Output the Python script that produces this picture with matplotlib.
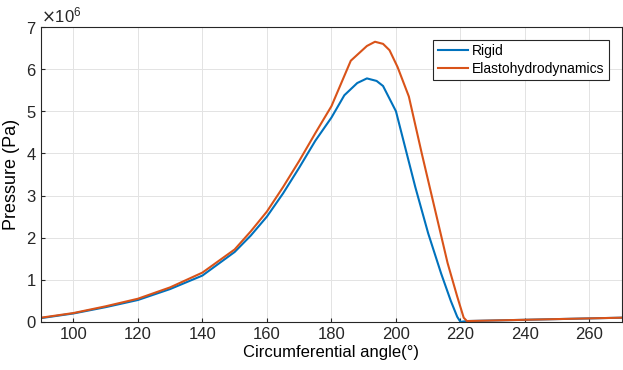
import numpy as np
import matplotlib.pyplot as plt
from matplotlib.ticker import ScalarFormatter

plt.rcParams['font.family'] = ['Liberation Sans', 'DejaVu Sans']

# Rigid bearing pressure (x1e6 Pa)
angle_rigid = [90, 100, 110, 120, 130, 140, 150, 155, 160, 165, 170, 175, 180, 184, 188, 191, 194,
               196, 198, 200, 203, 206, 210, 214, 217, 219, 220, 222, 240, 270]
p_rigid = [0.09, 0.2, 0.35, 0.52, 0.78, 1.1, 1.66, 2.05, 2.5, 3.05, 3.66, 4.3, 4.85, 5.38, 5.67, 5.78, 5.72,
           5.6, 5.3, 5.0, 4.1, 3.2, 2.1, 1.15, 0.5, 0.12, 0.0, 0.02, 0.05, 0.1]

# Elastohydrodynamic pressure (x1e6 Pa)
angle_ehd = [90, 100, 110, 120, 130, 140, 150, 155, 160, 165, 170, 175, 180, 186, 191, 193.5, 196,
             198, 200.5, 204, 208, 212, 216, 219, 221, 222, 240, 270]
p_ehd = [0.1, 0.21, 0.37, 0.55, 0.82, 1.17, 1.72, 2.15, 2.62, 3.2, 3.82, 4.48, 5.12, 6.2, 6.55, 6.65, 6.6,
         6.45, 6.05, 5.35, 4.0, 2.7, 1.4, 0.6, 0.1, 0.02, 0.05, 0.1]

fig = plt.figure(figsize=(6.23, 3.70), dpi=100)
ax = fig.add_axes([0.066, 0.13, 0.932, 0.797])

ax.plot(angle_rigid, np.array(p_rigid) * 1e6, color='#0072BD', linewidth=1.5, label='Rigid')
ax.plot(angle_ehd, np.array(p_ehd) * 1e6, color='#D95319', linewidth=1.5, label='Elastohydrodynamics')

ax.set_xlim(90, 270)
ax.set_ylim(0, 7e6)
ax.set_xticks(np.arange(100, 261, 20))
ax.set_yticks(np.arange(0, 7.1e6, 1e6))

fmt = ScalarFormatter(useMathText=True)
fmt.set_powerlimits((0, 0))
ax.yaxis.set_major_formatter(fmt)
ax.yaxis.get_offset_text().set_fontsize(12)

ax.grid(True, color='#e3e3e3', linewidth=0.7)
ax.set_axisbelow(True)
ax.tick_params(direction='in', labelsize=12, colors='#262626', length=3)
for s in ax.spines.values():
    s.set_color('#262626')
    s.set_linewidth(0.8)

ax.set_xlabel('Circumferential angle(°)', fontsize=12, labelpad=2)
ax.set_ylabel('Pressure (Pa)', fontsize=13, labelpad=4)

leg = ax.legend(loc='upper right', fontsize=10, fancybox=False, edgecolor='#262626',
                framealpha=1, handlelength=2.2, handletextpad=0.3, borderpad=0.3,
                labelspacing=0.3, bbox_to_anchor=(0.99, 0.98))
leg.get_frame().set_linewidth(0.8)

fig.savefig('out.png', dpi=100)
